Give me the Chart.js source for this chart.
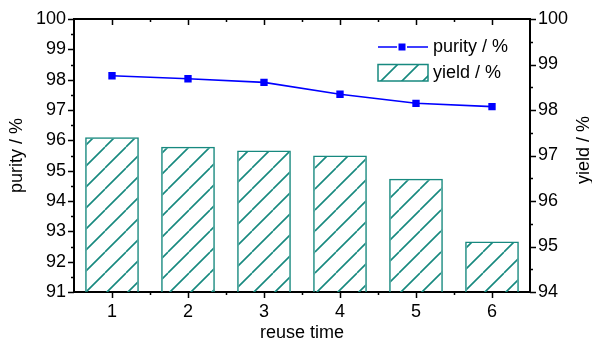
<!DOCTYPE html>
<html><head><meta charset="utf-8">
<script src="https://cdn.jsdelivr.net/npm/chart.js@4/dist/chart.umd.min.js"></script>
<style>html,body{margin:0;padding:0;background:#fff;}canvas{display:block;}</style>
</head><body>
<canvas id="c" width="592" height="343"></canvas>
<script>
const categories = ['1', '2', '3', '4', '5', '6'];
const purity = [98.13, 98.03, 97.91, 97.52, 97.22, 97.11];
const yieldPct = [97.40, 97.19, 97.11, 97.00, 96.49, 95.11];
const purityTicks = [91, 92, 93, 94, 95, 96, 97, 98, 99, 100];
const yieldTicks = [94, 95, 96, 97, 98, 99, 100];
const xTitle = 'reuse time';
const leftTitle = 'purity / %';
const rightTitle = 'yield / %';
const purityLabel = 'purity / %';
const yieldLabel = 'yield / %';

const TEAL = '#17897f';
const BLUE = '#0000ff';
const FONT = "'Liberation Sans', Arial, sans-serif";

function hatch(color) {
  const s = 21;
  const c = document.createElement('canvas');
  c.width = s; c.height = s;
  const g = c.getContext('2d');
  g.strokeStyle = color; g.lineWidth = 1.6;
  g.beginPath();
  for (let k = -1; k <= 1; k++) { g.moveTo(k * s, s); g.lineTo(k * s + s, 0); }
  g.stroke();
  return g.createPattern(c, 'repeat');
}
const pattern = hatch(TEAL);

const deco = {
  id: 'deco',
  afterDraw(chart) {
    const { ctx, chartArea: a, scales: { x, y, y1 } } = chart;
    ctx.save();
    ctx.strokeStyle = '#000';
    ctx.lineWidth = 2;
    ctx.beginPath(); ctx.moveTo(a.left - 1, a.top); ctx.lineTo(a.right + 1, a.top); ctx.stroke();
    ctx.lineWidth = 1.5;
    ctx.beginPath();
    for (let v = purityTicks[0]; v <= purityTicks[purityTicks.length - 1] + 1e-9; v += 0.5) {
      const py = Math.round(y.getPixelForValue(v)) + 0.5;
      const len = Number.isInteger(v) ? 6 : 3;
      ctx.moveTo(a.left, py); ctx.lineTo(a.left - len, py);
    }
    for (let v = yieldTicks[0]; v <= yieldTicks[yieldTicks.length - 1] + 1e-9; v += 0.5) {
      const py = Math.round(y1.getPixelForValue(v)) + 0.5;
      const len = Number.isInteger(v) ? 6 : 3;
      ctx.moveTo(a.right, py); ctx.lineTo(a.right + len, py);
    }
    for (let i = 0; i < categories.length; i++) {
      const px = Math.round(x.getPixelForValue(i)) + 0.5;
      ctx.moveTo(px, a.bottom); ctx.lineTo(px, a.bottom + 6);
      ctx.moveTo(px, a.top); ctx.lineTo(px, a.top + 6);
      if (i > 0) {
        const mx = Math.round((x.getPixelForValue(i) + x.getPixelForValue(i - 1)) / 2) + 0.5;
        ctx.moveTo(mx, a.bottom); ctx.lineTo(mx, a.bottom + 3);
        ctx.moveTo(mx, a.top); ctx.lineTo(mx, a.top + 3);
      }
    }
    ctx.stroke();

    ctx.fillStyle = '#000';
    ctx.font = '18px ' + FONT;
    ctx.save();
    ctx.translate(584, 150);
    ctx.rotate(-Math.PI / 2);
    ctx.textAlign = 'center'; ctx.textBaseline = 'middle';
    ctx.fillText(rightTitle, 0, 0);
    ctx.restore();

    const lx0 = 378, lx1 = 428, ly1 = 47, ly2 = 73;
    ctx.strokeStyle = BLUE; ctx.lineWidth = 1.5;
    ctx.beginPath();
    ctx.moveTo(lx0, ly1); ctx.lineTo(397, ly1);
    ctx.moveTo(407, ly1); ctx.lineTo(lx1, ly1);
    ctx.stroke();
    ctx.fillStyle = BLUE;
    ctx.fillRect(402 - 3.5, ly1 - 3.5, 7, 7);
    ctx.fillStyle = pattern;
    ctx.fillRect(lx0, 64.5, lx1 - lx0, 16.5);
    ctx.strokeStyle = TEAL; ctx.lineWidth = 1.5;
    ctx.strokeRect(lx0, 64.5, lx1 - lx0, 16.5);
    ctx.fillStyle = '#000';
    ctx.textAlign = 'left'; ctx.textBaseline = 'middle';
    ctx.fillText(purityLabel, 433, ly1);
    ctx.fillText(yieldLabel, 433, ly2);
    ctx.restore();
  }
};

new Chart(document.getElementById('c'), {
  data: {
    labels: categories,
    datasets: [
      {
        type: 'line', label: purityLabel, data: purity, yAxisID: 'y', order: 1,
        borderColor: BLUE, borderWidth: 1.6, tension: 0,
        pointStyle: 'rect', pointRadius: 5.2, pointBackgroundColor: BLUE, pointBorderWidth: 0
      },
      {
        type: 'bar', label: yieldLabel, data: yieldPct, yAxisID: 'y1', order: 2,
        backgroundColor: pattern, borderColor: TEAL, borderWidth: 1.5,
        barPercentage: 0.707, categoryPercentage: 1, borderSkipped: false
      }
    ]
  },
  options: {
    responsive: false, animation: false, devicePixelRatio: 1,
    layout: { padding: { top: 19, left: 0, right: 0, bottom: 0 } },
    plugins: { legend: { display: false }, tooltip: { enabled: false } },
    scales: {
      x: {
        type: 'category', offset: true, position: 'bottom',
        afterFit: s => { s.height = 51; },
        grid: { display: true, drawOnChartArea: false, drawTicks: true, tickLength: 6, tickColor: 'rgba(0,0,0,0)', offset: true },
        border: { display: true, color: '#000', width: 2 },
        ticks: { color: '#000', font: { family: FONT, size: 18 }, padding: 3, maxRotation: 0 },
        title: { display: true, text: xTitle, color: '#000', font: { family: FONT, size: 18 }, padding: { top: 0, bottom: -1 } }
      },
      y: {
        type: 'linear', position: 'left',
        min: purityTicks[0], max: purityTicks[purityTicks.length - 1],
        afterBuildTicks: s => { s.ticks = purityTicks.map(v => ({ value: v })); },
        afterFit: s => { s.width = 74; },
        grid: { display: true, drawOnChartArea: false, drawTicks: true, tickLength: 6, tickColor: 'rgba(0,0,0,0)' },
        border: { display: true, color: '#000', width: 2 },
        ticks: { color: '#000', font: { family: FONT, size: 18 }, padding: 2 },
        title: { display: true, text: leftTitle, color: '#000', font: { family: FONT, size: 18 }, padding: { top: 6, bottom: 0 } }
      },
      y1: {
        type: 'linear', position: 'right',
        min: yieldTicks[0], max: yieldTicks[yieldTicks.length - 1],
        afterBuildTicks: s => { s.ticks = yieldTicks.map(v => ({ value: v })); },
        afterFit: s => { s.width = 62; },
        grid: { display: true, drawOnChartArea: false, drawTicks: true, tickLength: 6, tickColor: 'rgba(0,0,0,0)' },
        border: { display: true, color: '#000', width: 2 },
        ticks: { color: '#000', font: { family: FONT, size: 18 }, padding: 2 },
        title: { display: false }
      }
    }
  },
  plugins: [deco]
});
</script>
</body></html>
